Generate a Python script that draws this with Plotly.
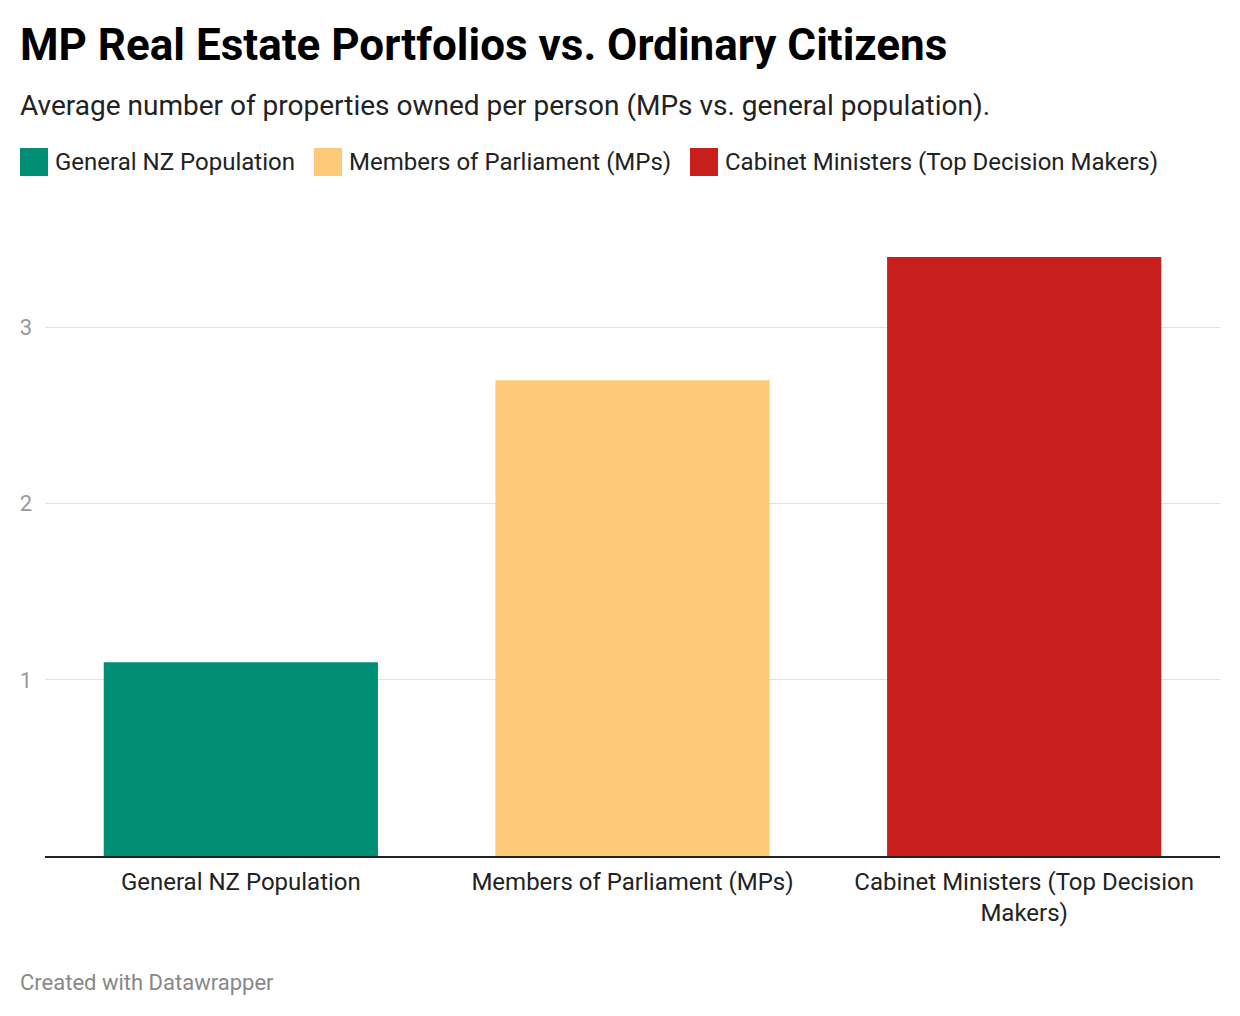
import plotly.graph_objects as go

categories = ["General NZ Population", "Members of Parliament (MPs)", "Cabinet Ministers (Top Decision Makers)"]
tick_labels = ["General NZ Population", "Members of Parliament (MPs)", "Cabinet Ministers (Top Decision<br>Makers)"]
values = [1.1, 2.7, 3.4]
colors = ["#008f75", "#fdc978", "#c81e1e"]
y_ticks = [1, 2, 3]

OFF = 8  # page body margin
W, H = 1240 - OFF, 1016 - OFF
L, R, T, B = 45 - OFF, 20, 257 - OFF, 160
PW, PH = W - L - R, H - T - B

# positions below are in window pixels
def px(x):
  return (x - OFF - L) / PW

def py(y):
  return (H - B - (y - OFF)) / PH

fig = go.Figure(go.Bar(
    x=tick_labels,
    y=values,
    marker=dict(color=colors, line=dict(width=0)),
    hoverinfo="x+y",
  ))

fig.update_layout(
    width=W, height=H,
    margin=dict(l=L, r=R, t=T, b=B, pad=0),
    paper_bgcolor="white", plot_bgcolor="white",
    font=dict(family="Roboto", color="#222"),
    bargap=0.3,
    showlegend=False,
  )
fig.update_xaxes(
    showgrid=False, showline=True, linecolor="#222", linewidth=2,
    ticks="", tickfont=dict(size=24, color="#222"), ticklabelstandoff=3,
    fixedrange=True,
  )
fig.update_yaxes(
    range=[0, 3.4], tickvals=y_ticks, ticktext=[str(v) for v in y_ticks],
    showgrid=True, gridcolor="#e2e2e2", gridwidth=1,
    zeroline=False, showline=False, ticks="",
    tickfont=dict(size=22, color="#999"), ticklabelstandoff=12,
    fixedrange=True,
  )

# title, subtitle, footer
fig.add_annotation(text="<b>MP Real Estate Portfolios vs. Ordinary Citizens</b>",
  xref="paper", yref="paper", x=px(18), y=py(45), xanchor="left", yanchor="middle",
  showarrow=False, font=dict(size=44, color="#000"))
fig.add_annotation(text="Average number of properties owned per person (MPs vs. general population).",
  xref="paper", yref="paper", x=px(18), y=py(106), xanchor="left", yanchor="middle",
  showarrow=False, font=dict(size=28, color="#222"))
fig.add_annotation(text="Created with Datawrapper",
  xref="paper", yref="paper", x=px(18), y=py(982), xanchor="left", yanchor="middle",
  showarrow=False, font=dict(size=22, color="#888"))

# legend drawn as squares + labels
legend_x = [20, 314, 690]
for lx, name, c in zip(legend_x, categories, colors):
  fig.add_shape(type="rect", xref="paper", yref="paper",
    x0=px(lx), x1=px(lx + 28), y0=py(176), y1=py(148),
    fillcolor=c, line=dict(width=0))
  fig.add_annotation(text=name, xref="paper", yref="paper",
    x=px(lx + 33), y=py(162), xanchor="left", yanchor="middle",
    showarrow=False, font=dict(size=24, color="#222"))

fig.write_html("out.html")
